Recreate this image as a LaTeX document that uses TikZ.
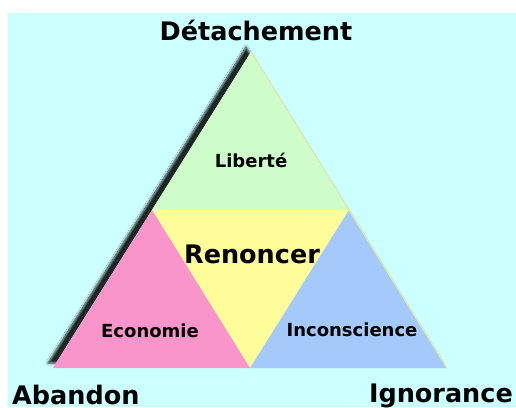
\documentclass[tikz,border=0pt]{standalone}
\usepackage{fontspec}
\setmainfont{DejaVu Sans}
\usetikzlibrary{shadows.blur}

\definecolor{fondcyan}{HTML}{CCFFFF}
\definecolor{vertclair}{HTML}{CEFDC9}
\definecolor{jauneclair}{HTML}{FFFD9A}
\definecolor{roseclair}{HTML}{F995CA}
\definecolor{bleuclair}{HTML}{A4C9FB}
\definecolor{bordjaune}{HTML}{E6EBA8}

\begin{document}
\begin{tikzpicture}[x=1pt,y=-1pt]
		\tikzstyle{every node}+=[inner sep=0pt, font=\bfseries]
		\tikzstyle{sommet}=[font=\bfseries\fontsize{25.5}{25.5}\selectfont, anchor=base]
		\tikzstyle{zone}=[font=\bfseries\fontsize{18}{18}\selectfont, anchor=base]
		\useasboundingbox (0,0) rectangle (516,407);
		\fill [white] (0,0) rectangle (516,407);
		\fill [fondcyan] (8,13) rectangle (516,407);
		% sommets du triangle
		\coordinate (haut) at (251,52);
		\coordinate (gauche) at (53,368);
		\coordinate (droite) at (447,368);
		\coordinate (milg) at ($(haut)!0.5!(gauche)$);
		\coordinate (mild) at ($(haut)!0.5!(droite)$);
		\coordinate (milb) at ($(gauche)!0.5!(droite)$);
		% ombre
		\fill [fondcyan, blur shadow={shadow xshift=-5pt, shadow yshift=5pt, shadow blur radius=2pt, shadow blur steps=8, shadow opacity=85}] (haut) -- (gauche) -- (droite) -- cycle;
		% les quatre zones
		\fill [vertclair] (haut) -- (milg) -- (mild) -- cycle;
		\fill [jauneclair] (milg) -- (mild) -- (milb) -- cycle;
		\fill [roseclair] (milg) -- (gauche) -- (milb) -- cycle;
		\fill [bleuclair] (mild) -- (milb) -- (droite) -- cycle;
		\draw [bordjaune, line width=1.2pt] (haut) -- (droite);
		% textes
		\node [sommet] (detachement) at (256,40) {Détachement};
		\node [sommet, anchor=base west] (abandon) at (12,404) {Abandon};
		\node [sommet, anchor=base east] (ignorance) at (513,402) {Ignorance};
		\node [zone] (liberte) at (251,167) {Liberté};
		\node [sommet] (renoncer) at (252,263) {Renoncer};
		\node [zone] (economie) at (150,337) {Economie};
		\node [zone] (inconscience) at (352,336) {Inconscience};
\end{tikzpicture}
\end{document}
